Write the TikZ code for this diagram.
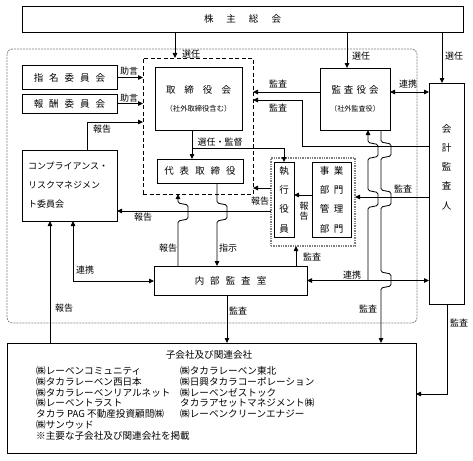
\documentclass[tikz,border=0pt]{standalone}
\usepackage{fontspec}
\setmainfont{Noto Sans CJK JP}
\usetikzlibrary{arrows.meta,positioning}
\newcommand{\jgap}{\hspace{6pt}}
\newcommand{\mgap}{\hspace{9pt}}
\newcommand{\wgap}{\hspace{13pt}}
\tikzset{
  box/.style={draw, line width=0.9pt, inner sep=0pt, outer sep=0pt, font=\fontsize{9.5}{11}\selectfont},
  arr/.style={-{Triangle[length=5pt,width=4.5pt]}, line width=0.8pt},
  darr/.style={{Triangle[length=5pt,width=4.5pt]}-{Triangle[length=5pt,width=4.5pt]}, line width=0.8pt},
  hop/.style={rounded corners=1.5pt},
  lab/.style={inner sep=0pt, font=\fontsize{9}{10}\selectfont},
  vtext/.style={inner sep=0pt, align=center, font=\fontsize{9.5}{19.3}\selectfont},
  listtxt/.style={inner sep=0pt, anchor=west, font=\fontsize{9.6}{10.8}\selectfont},
}
\begin{document}
\begin{tikzpicture}[x=1pt, y=-1pt]
  \useasboundingbox (0,0) rectangle (473,460);
  % outer frame
  \draw[gray, line width=0.8pt, dash pattern=on 2pt off 1pt, rounded corners=5pt] (7,49) rectangle (417,323);

  % boxes
  \node[box, minimum width=441pt, minimum height=26pt] (soukai) at (242.5,19) {株\wgap 主\wgap 総\wgap 会};
  \node[draw, dash pattern=on 4pt off 2.5pt, line width=1pt, inner sep=0pt, outer sep=0pt,
        minimum width=110pt, minimum height=136pt] (torigrp) at (198,126) {};
  \node[box, minimum width=87pt, minimum height=63pt, align=center] (torikai) at (198.5,98.5)
    {取\mgap 締\mgap 役\mgap 会\\[7pt]{\fontsize{7.3}{9}\selectfont （社外取締役含む）}};
  \node[box, minimum width=86pt, minimum height=24pt] (daihyo) at (200,171) {代\jgap 表\jgap 取\jgap 締\jgap 役};
  \node[box, minimum width=95pt, minimum height=23.5pt] (shimei) at (69.5,77.5) {指\jgap 名\jgap 委\jgap 員\jgap 会};
  \node[box, minimum width=95pt, minimum height=19pt] (houshu) at (69.5,103.5) {報\jgap 酬\jgap 委\jgap 員\jgap 会};
  \node[box, minimum width=95pt, minimum height=71pt, align=left, text width=83pt,
        font=\fontsize{9}{19}\selectfont] (comp) at (69.5,185.5) {コンプライアンス・\\リスクマネジメン\\ト委員会};
  \node[box, minimum width=70pt, minimum height=62pt, align=center] (kansayaku) at (355,99)
    {監\hspace{3pt}査\hspace{3pt}役\hspace{3pt}会\\[7pt]{\fontsize{7.1}{9}\selectfont （社外監査役）}};
  \node[box, minimum width=35pt, minimum height=221pt] (kaikei) at (446.5,193.5) {};
  \node[vtext] (kaikeitxt) at (446.5,167) {会\\計\\監\\査\\人};
  \node[draw=gray, densely dotted, line width=1.4pt, inner sep=0pt, outer sep=0pt,
        minimum width=84pt, minimum height=88pt] (dotgrp) at (313,202) {};
  \node[box, vtext, minimum width=20pt, minimum height=75pt] (shikko) at (284,199.5) {執\\行\\役\\員};
  \node[box, vtext, minimum width=39pt, minimum height=75pt] (jigyo) at (331.5,199.5)
    {事\hspace{4.5pt}業\\部\hspace{4.5pt}門\\管\hspace{4.5pt}理\\部\hspace{4.5pt}門};
  \node[box, minimum width=153pt, minimum height=29pt] (naibu) at (230.5,280.5) {内\jgap 部\jgap 監\jgap 査\jgap 室};
  \node[box, minimum width=409pt, minimum height=110pt] (kogaisha) at (211.5,398) {};

  % subsidiaries
  \node[lab, font=\fontsize{9.6}{11}\selectfont] (kotitle) at (209,355) {子会社及び関連会社};
  \foreach \t [count=\i] in {㈱レーベンコミュニティ, ㈱タカラレーベン西日本, ㈱タカラレーベンリアルネット,
      ㈱レーベントラスト, タカラ PAG 不動産投資顧問㈱, ㈱サンウッド, ※主要な子会社及び関連会社を掲載}
    \node[listtxt] (lefti\i) at (36,360+10.8*\i) {\t};
  \foreach \t [count=\i] in {㈱タカラレーベン東北, ㈱日興タカラコーポレーション, ㈱レーベンゼストック,
      タカラアセットマネジメント㈱, ㈱レーベンクリーンエナジー}
    \node[listtxt] (righti\i) at (180,360+10.8*\i) {\t};

  % line positions
  \coordinate (p1) at (175,0);
  \coordinate (p2) at (347,0);
  \coordinate (p3) at (442,0);
  \coordinate (p4) at (192,148);
  \coordinate (p6) at (87,122);
  \coordinate (p7) at (302,146);
  \coordinate (p8) at (302,100);
  \coordinate (p9) at (73,281);
  \coordinate (p10) at (50,0);
  \coordinate (p11) at (178,0);
  \coordinate (p12) at (217,0);
  \coordinate (p13) at (296,0);
  \coordinate (p14) at (227,0);
  \coordinate (p15) at (368,0);
  \coordinate (p16) at (381,0);
  \coordinate (p17) at (447,394);
  \coordinate (q1) at (0,92);
  \coordinate (q2) at (0,197);
  \coordinate (q3) at (0,195);
  \coordinate (q4) at (0,188);
  \coordinate (q5) at (0,211);

  % connectors
  \draw[arr] (soukai.south -| p1) -- (torigrp.north -| p1);
  \draw[arr] (soukai.south -| p2) -- (kansayaku.north -| p2);
  \draw[arr] (soukai.south -| p3) -- (kaikei.north -| p3);
  \draw[arr] (shimei.east) -- (shimei.east -| torigrp.west);
  \draw[arr] (houshu.east) -- (houshu.east -| torigrp.west);
  \draw[arr] (comp.north -| p6) -- (p6) -- (p6 -| torigrp.west);
  \draw[arr] (torikai.south -| p4) -- (daihyo.north -| p4);
  \draw[arr] (p4) -| (shikko.north);
  \draw[arr] (kansayaku.west |- q1) -- (torigrp.east |- q1);
  \draw[darr] (kansayaku.east |- q1) -- (kaikei.west |- q1);
  \draw[arr] (kaikei.west |- p7) -- (p7) -- (p8) -- (torigrp.east |- p8);
  \draw[arr] (kaikei.west |- q2) -- (dotgrp.east |- q2);
  \draw[arr] (jigyo.west |- q3) -- (shikko.east |- q3);
  \draw[arr] (dotgrp.west |- q4) -- (torigrp.east |- q4);
  \draw[arr] (dotgrp.west |- q5) -- (comp.east |- q5);
  \draw[arr, hop] (naibu.north -| p11) -- ++(0,-45) -- ++(10,-2) -- ++(0,-14) -- ++(-10,-2) -- (torigrp.south -| p11);
  \draw[arr, hop] (daihyo.south -| p12) -- ++(0,20) -- ++(10,2) -- ++(0,14) -- ++(-10,2) -- (naibu.north -| p12);
  \draw[arr] (naibu.north -| p13) -- (dotgrp.south -| p13);
  \draw[darr] (comp.south -| p9) -- (p9) -- (p9 -| naibu.west);
  \draw[darr] (naibu.east) -- (naibu.east -| kaikei.west);
  \draw[arr] (kogaisha.north -| p10) -- (comp.south -| p10);
  \draw[arr] (naibu.south -| p14) -- (kogaisha.north -| p14);
  \draw[arr] (kaikei.south -| p17) -- (p17) -- (p17 -| kogaisha.east);
  \draw[arr, hop] (naibu.east -| p15) -- ++(0,-73) -- ++(10,-2) -- ++(0,-13) -- ++(-10,-2) -- ++(0,-32)
    -- ++(10,-2) -- ++(0,-12) -- ++(-10,-2) -- (kansayaku.south -| p15);
  \draw[arr, hop] (kansayaku.south -| p16) -- ++(0,12) -- ++(10,2) -- ++(0,12) -- ++(-10,2) -- ++(0,32)
    -- ++(10,2) -- ++(0,13) -- ++(-10,2) -- ++(0,65) -- ++(10,2) -- ++(0,12) -- ++(-10,2) -- (kogaisha.north -| p16);

  % labels
  \node[lab] (l1) at (191,54) {選任};
  \node[lab] (l2) at (361,56) {選任};
  \node[lab] (l3) at (454,56) {選任};
  \node[lab] (l4) at (129,71) {助言};
  \node[lab] (l5) at (129,98) {助言};
  \node[lab] (l6) at (102,129) {報告};
  \node[lab] (l7) at (220,142) {選任・監督};
  \node[lab] (l8) at (278,84) {監査};
  \node[lab] (l9) at (278,108) {監査};
  \node[lab] (l10) at (408,84) {連携};
  \node[lab] (l11) at (403,189) {監査};
  \node[lab] (l12) at (260,201) {報告};
  \node[lab, align=center, font=\fontsize{9}{10.5}\selectfont] (l13) at (304,211) {報\\告};
  \node[lab] (l14) at (143,217) {報告};
  \node[lab] (l15) at (168,248) {報告};
  \node[lab] (l16) at (228,248) {指示};
  \node[lab] (l17) at (312,257) {監査};
  \node[lab] (l18) at (85,270) {連携};
  \node[lab] (l19) at (352,275) {連携};
  \node[lab] (l20) at (64,308) {報告};
  \node[lab] (l21) at (238,311) {監査};
  \node[lab] (l22) at (368,309) {監査};
  \node[lab] (l23) at (459,323) {監査};
\end{tikzpicture}
\end{document}
